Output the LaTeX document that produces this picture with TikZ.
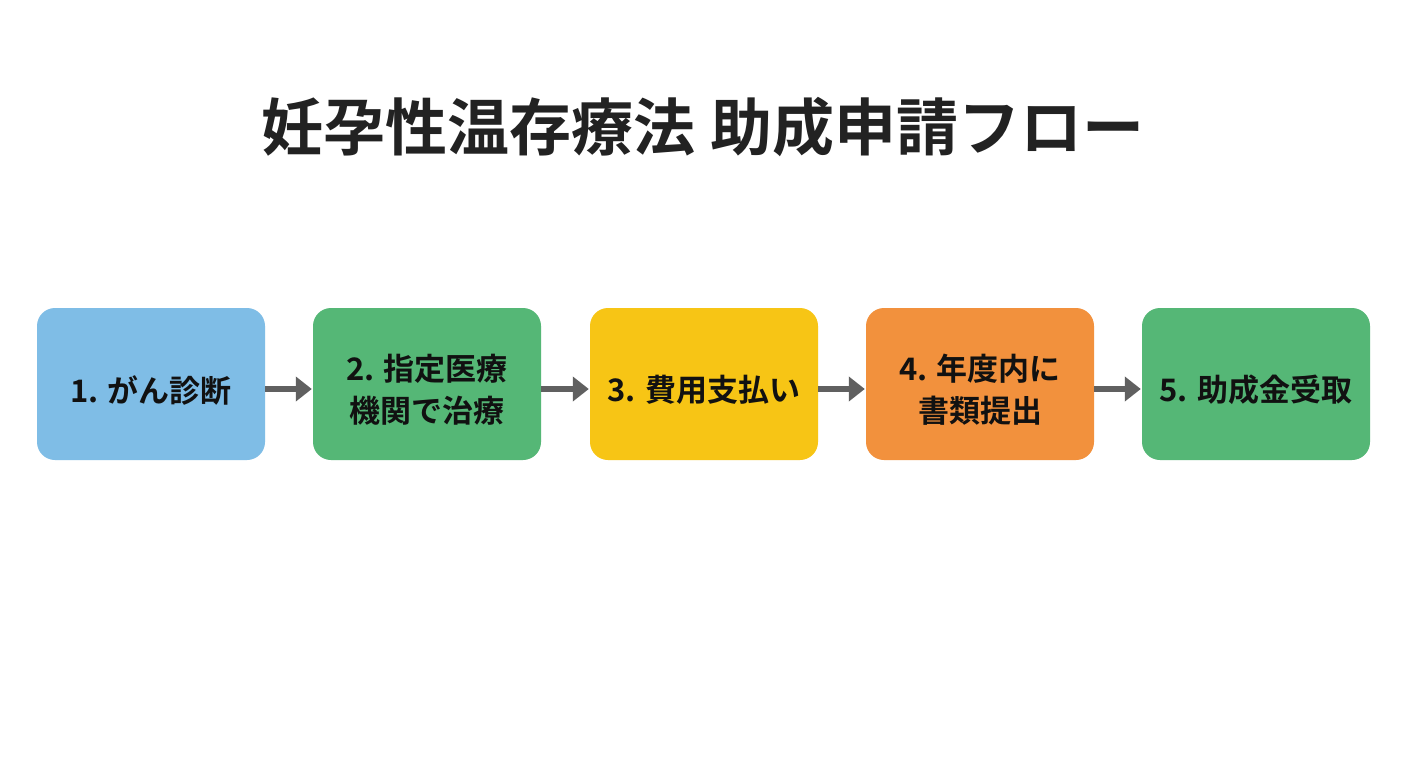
\documentclass[tikz,border=0pt]{standalone}
\usepackage{fontspec}
\setmainfont{Noto Sans CJK JP}[BoldFont={Noto Sans CJK JP Bold}]
\usetikzlibrary{arrows.meta}
\definecolor{cblue}{HTML}{7FBDE6}
\definecolor{cgreen}{HTML}{55B776}
\definecolor{cyellow}{HTML}{F7C515}
\definecolor{corange}{HTML}{F2913D}
\definecolor{carrow}{HTML}{606060}
\definecolor{ctext}{HTML}{111111}
\definecolor{ctitle}{HTML}{222222}
\tikzset{
  stepbox/.style={rounded corners=18pt, minimum width=228pt, minimum height=152pt, inner sep=0pt},
  steptext/.style={inner sep=0pt, align=center, text=ctext, font=\fontsize{31}{42}\selectfont\bfseries},
  flowarrow/.style={draw=carrow, line width=6pt, -{Triangle[length=16pt,width=24pt]}, shorten >=1pt}
}
\begin{document}
\begin{tikzpicture}[x=1pt,y=-1pt]
\useasboundingbox (0,0) rectangle (1408,768);
\fill[white] (0,0) rectangle (1408,768);
\node[text=ctitle, font=\fontsize{62}{70}\selectfont\bfseries] (title) at (703,127) {妊孕性温存療法 助成申請フロー};
\node[stepbox, fill=cblue] (s1) at (151,384) {};
\node[stepbox, fill=cgreen] (s2) at (427,384) {};
\node[stepbox, fill=cyellow] (s3) at (704,384) {};
\node[stepbox, fill=corange] (s4) at (980,384) {};
\node[stepbox, fill=cgreen] (s5) at (1256,384) {};
\node[steptext] (t1) at ([yshift=-6pt]s1.center) {1. がん診断};
\node[steptext] (t2) at ([yshift=-6pt]s2.center) {2. 指定医療\\機関で治療};
\node[steptext] (t3) at ([yshift=-6pt]s3.center) {3. 費用支払い};
\node[steptext] (t4) at ([yshift=-6pt]s4.center) {4. 年度内に\\書類提出};
\node[steptext] (t5) at ([yshift=-6pt]s5.center) {5. 助成金受取};
\draw[flowarrow] ([yshift=-5pt]s1.east) -- ([yshift=-5pt]s2.west);
\draw[flowarrow] ([yshift=-5pt]s2.east) -- ([yshift=-5pt]s3.west);
\draw[flowarrow] ([yshift=-5pt]s3.east) -- ([yshift=-5pt]s4.west);
\draw[flowarrow] ([yshift=-5pt]s4.east) -- ([yshift=-5pt]s5.west);
\end{tikzpicture}
\end{document}
